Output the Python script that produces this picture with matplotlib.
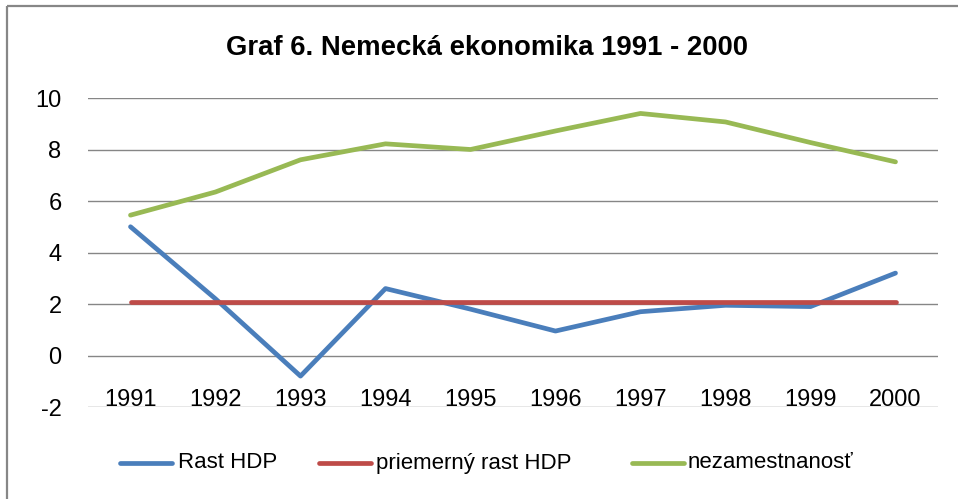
import matplotlib
matplotlib.use("Agg")
import matplotlib.pyplot as plt
from matplotlib.lines import Line2D
import matplotlib.transforms as mtransforms

years = ["1991", "1992", "1993", "1994", "1995", "1996", "1997", "1998", "1999", "2000"]
rast_hdp = [5.0, 2.2, -0.8, 2.6, 1.8, 0.95, 1.7, 1.95, 1.9, 3.2]
priemerny_rast = [2.06] * 10
nezamestnanost = [5.45, 6.35, 7.6, 8.22, 8.0, 8.72, 9.4, 9.07, 8.27, 7.52]
series_names = ["Rast HDP", "priemerný rast HDP", "nezamestnanosť"]
colors = ["#4A7EBB", "#BE4B48", "#98B954"]
yticks = [-2, 0, 2, 4, 6, 8, 10]
title = "Graf 6. Nemecká ekonomika 1991 - 2000"

plt.rcParams['font.family'] = ['Liberation Sans', 'DejaVu Sans']

W, H = 958, 499
fig = plt.figure(figsize=(W / 100, H / 100), dpi=100)
fig.patch.set_facecolor("white")

# chart frame (top and left visible)
fig.add_artist(Line2D([6.5 / W, 6.5 / W], [0, 1 - 6 / H], transform=fig.transFigure,
                      color="#878787", lw=1.6, solid_capstyle="butt"))
fig.add_artist(Line2D([6.5 / W, 1], [1 - 6 / H, 1 - 6 / H], transform=fig.transFigure,
                      color="#878787", lw=1.6, solid_capstyle="butt"))

left, right, top, bottom = 88, 938, 98, 407
ax = fig.add_axes([left / W, 1 - bottom / H, (right - left) / W, (bottom - top) / H])
ax.set_xlim(-0.5, len(years) - 0.5)
ax.set_ylim(-2, 10)
for s in ax.spines.values():
    s.set_visible(False)
ax.set_yticks(yticks)
ax.set_yticklabels([str(v) for v in yticks], fontsize=17, color="black")
ax.tick_params(axis='y', length=0, pad=19)
ax.set_xticks([])
for v in yticks:
    ax.axhline(v, color="#868686", lw=1.0, zorder=1)

x = list(range(len(years)))
for vals, c in zip([rast_hdp, priemerny_rast, nezamestnanost], colors):
    ax.plot(x, vals, color=c, lw=3.4, solid_capstyle="round", solid_joinstyle="round", zorder=3)

trans = mtransforms.offset_copy(ax.transData, fig=fig, x=0, y=1, units='dots')
for i, yl in enumerate(years):
    ax.text(i, -2, yl, ha="center", va="baseline", fontsize=17, transform=trans, zorder=2)

# title
t = fig.text(0.5 * (225 + 748) / W, 1 - 55 / H, title, ha="center", va="baseline",
             fontsize=18, fontweight="bold")
fig.canvas.draw()
r = fig.canvas.get_renderer()
bb = t.get_window_extent(r)
t.set_fontsize(18 * (748 - 225) / bb.width)

# legend
leg_y = 1 - 463 / H
items = [(120, 172, 178), (319, 371, 376), (632, 684, 688)]
for (l0, l1, tx), name, c in zip(items, series_names, colors):
    fig.add_artist(Line2D([l0 / W, l1 / W], [leg_y, leg_y], transform=fig.transFigure,
                          color=c, lw=3.4, solid_capstyle="round"))
    fig.text(tx / W, leg_y, name, ha="left", va="center", fontsize=16)

fig.savefig("out.png", dpi=100, facecolor="white")
